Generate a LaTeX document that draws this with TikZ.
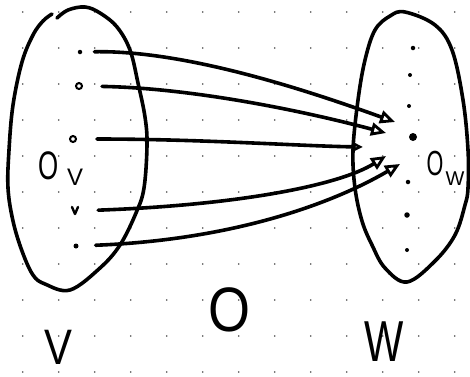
\documentclass[tikz,border=0pt]{standalone}
\usepackage{fontspec}
\setmainfont{Liberation Sans}
\usetikzlibrary{arrows.meta}
\begin{document}
\begin{tikzpicture}[x=1bp,y=-1bp,
  hand/.style={line width=3.6bp,line cap=round,line join=round},
  conn/.style={hand,-{Triangle[open,length=15bp,width=13bp,line width=2.8bp]}},
  fdot/.style={circle,fill,inner sep=0pt,minimum size=5bp},
  odot/.style={circle,draw,line width=2bp,inner sep=0pt,minimum size=6bp},
  lbl/.style={inner sep=0pt,font=\fontsize{#1}{#1}\selectfont},
]
\useasboundingbox (0,0) rectangle (470,376);
\fill[white] (0,0) rectangle (470,376);
% dot grid
\foreach \i in {0,...,12}
  \foreach \j in {0,...,10}
    \fill[black!70] ({22.7+36*\i},{12+36*\j}) circle (0.9bp);

% set V (open at top left)
\draw[hand] plot[smooth,tension=0.6] coordinates {(57,18) (68,10) (85,7) (100,13) (117,27) (130,50) (138,83) (145,117) (147,145) (144,188) (136,213) (120,245) (100,268) (70,290) (45,284) (33,275) (22,251) (13,221) (8,188) (9,150) (13,105) (22,62) (33,35) (43,21) (52,14)};
% set W
\draw[hand] plot[smooth cycle,tension=0.6] coordinates {(405,12) (435,25) (452,50) (463,100) (468,150) (468,188) (465,205) (455,235) (435,261) (407,282) (385,268) (372,245) (362,221) (355,188) (353,150) (358,100) (365,60) (375,30) (390,16)};

% elements of V
\node[fdot,minimum size=4.5bp] (v1) at (80,52) {};
\node[odot] (v2) at (79,86) {};
\node[odot] (v3) at (73,139) {};
\node[inner sep=0pt,minimum size=6bp] (v4) at (75,211) {};
\draw[line width=2.4bp,line cap=round,line join=round] (72,207) -- (75,214) -- (78,207);
\node[fdot] (v5) at (76,246) {};

% elements of W
\node[fdot,minimum size=4.5bp] (w1) at (413,48) {};
\node[fdot,minimum size=4bp] (w2) at (410,75) {};
\node[fdot,minimum size=4bp] (w3) at (409,106) {};
\node[fdot,minimum size=8bp] (w4) at (413,137) {};
\node[fdot,minimum size=4.5bp] (w5) at (408,182) {};
\node[fdot,minimum size=5.5bp] (w6) at (407,215) {};
\node[fdot,minimum size=4bp] (w7) at (407,250) {};

% arrow tips
\coordinate (h1) at (395,122);
\coordinate (h2) at (386,133);
\coordinate (h3) at (363,147);
\coordinate (h4) at (386,156);
\coordinate (h5) at (400,164);

\draw[conn,shorten <=12bp] (v1) .. controls (190,50) and (320,95) .. (h1);
\draw[conn,shorten <=19bp] (v2) .. controls (190,88) and (300,110) .. (h2);
\draw[conn,shorten <=20bp,-{Triangle[open,length=10bp,width=9bp,line width=2.6bp]}] (v3) .. controls (200,139) and (300,146) .. (h3);
\draw[conn,shorten <=20bp] (v4) .. controls (240,205) and (340,185) .. (h4);
\draw[conn,shorten <=17bp] (v5) .. controls (230,240) and (330,205) .. (h5);

% labels
\node[lbl=40,xscale=0.65] (ov) at (49,166) {O};
\node[lbl=24] (ovs) at (75,177) {V};
\node[lbl=35,xscale=0.62] (ow) at (435,163) {O};
\node[lbl=20] (ows) at (455,179) {W};
\node[lbl=63,xscale=0.86] (o) at (229,310) {O};
\node[lbl=50,xscale=0.84] (V) at (58,347) {V};
\node[lbl=58,xscale=0.72] (W) at (384,342) {W};
\end{tikzpicture}
\end{document}
